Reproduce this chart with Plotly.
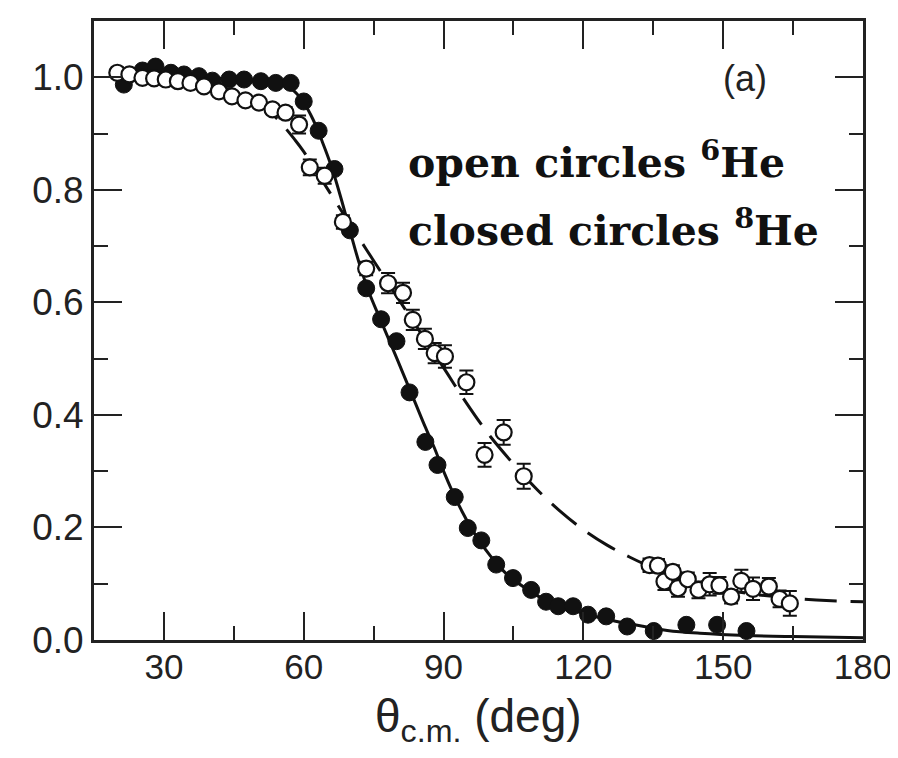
import plotly.graph_objects as go

# --- data ---
he8_theta = [21.4, 25.4, 28.2, 31.5, 34.3, 37.5, 40.4, 44.0, 47.2, 50.8, 54.0, 57.2,
             60.0, 63.2, 66.6, 69.9, 73.4, 76.6, 79.9, 82.7, 86.1, 88.7, 92.4, 95.2,
             98.1, 101.3, 104.9, 108.8, 112.0, 114.6, 117.8, 121.0, 124.9, 129.4,
             135.1, 142.1, 148.7, 155.0]
he8_ratio = [0.987, 1.012, 1.019, 1.008, 1.005, 1.002, 0.994, 0.996, 0.996, 0.993, 0.990, 0.990,
             0.957, 0.905, 0.837, 0.728, 0.625, 0.570, 0.531, 0.440, 0.352, 0.311, 0.254, 0.199,
             0.177, 0.134, 0.110, 0.089, 0.068, 0.060, 0.060, 0.045, 0.042, 0.024,
             0.016, 0.027, 0.027, 0.016]

he6_theta = [20.0, 22.6, 25.4, 27.9, 30.4, 33.0, 35.7, 38.6, 41.8, 44.6, 47.5, 50.4, 53.3,
             56.1, 59.0, 61.3, 64.5, 68.4, 73.4, 78.1, 81.3, 83.4, 86.0, 88.1, 90.3,
             94.9, 98.8, 102.9, 107.2, 134.2, 136.0, 137.4, 139.2, 140.3, 142.4, 144.7,
             147.1, 149.2, 151.7, 153.9, 156.4, 159.8, 162.1, 164.3]
he6_ratio = [1.008, 1.005, 0.999, 0.998, 0.996, 0.993, 0.990, 0.984, 0.975, 0.966, 0.959, 0.955, 0.943,
             0.937, 0.916, 0.840, 0.825, 0.743, 0.660, 0.634, 0.617, 0.569, 0.535, 0.510, 0.504,
             0.458, 0.329, 0.369, 0.291, 0.133, 0.132, 0.104, 0.121, 0.092, 0.108, 0.089,
             0.099, 0.097, 0.077, 0.105, 0.091, 0.095, 0.073, 0.065]
he6_err = [0.006, 0.006, 0.006, 0.006, 0.006, 0.006, 0.006, 0.006, 0.006, 0.006, 0.006, 0.006, 0.008,
           0.010, 0.016, 0.014, 0.014, 0.012, 0.012, 0.018, 0.018, 0.018, 0.018, 0.018, 0.020,
           0.021, 0.021, 0.022, 0.022, 0.012, 0.012, 0.015, 0.012, 0.015, 0.012, 0.015,
           0.020, 0.015, 0.012, 0.020, 0.020, 0.015, 0.015, 0.022]

fit8_theta = [20, 25, 30, 35, 40, 45, 50, 54, 56, 58, 60, 62, 64, 66, 68, 70, 72, 74, 76, 78,
              80, 82, 84, 86, 88, 90, 92, 94, 96, 98, 100, 102, 105, 108, 112, 116, 121,
              126, 131, 138, 145, 155, 165, 180]
fit8_ratio = [1.0, 1.008, 1.008, 1.004, 0.999, 0.996, 0.993, 0.990, 0.986, 0.975, 0.955, 0.925,
              0.885, 0.840, 0.785, 0.725, 0.667, 0.618, 0.578, 0.539, 0.500, 0.460, 0.420, 0.380,
              0.342, 0.300, 0.262, 0.228, 0.198, 0.172, 0.150, 0.130, 0.107, 0.090, 0.070,
              0.057, 0.045, 0.035, 0.027, 0.017, 0.012, 0.008, 0.006, 0.004]

fit6_theta = [20, 30, 40, 45, 50, 52, 55, 58, 60, 65, 70, 75, 80, 85, 90, 95, 100, 105, 110,
              115, 120, 125, 130, 135, 140, 145, 150, 155, 160, 165, 170, 175, 180]
fit6_ratio = [1.0, 0.997, 0.985, 0.975, 0.958, 0.945, 0.920, 0.890, 0.868, 0.803, 0.738, 0.674,
              0.610, 0.547, 0.484, 0.420, 0.362, 0.313, 0.268, 0.229, 0.196, 0.169, 0.147,
              0.128, 0.113, 0.101, 0.091, 0.083, 0.078, 0.074, 0.071, 0.069, 0.068]

x_ticks = [30, 60, 90, 120, 150, 180]
y_ticks = [0.0, 0.2, 0.4, 0.6, 0.8, 1.0]

SANS = "Liberation Sans, Arial, sans-serif"

fig = go.Figure()

fig.add_trace(go.Scatter(x=fit6_theta, y=fit6_ratio, mode="lines", line_shape="spline",
                         line=dict(color="#111", width=3, dash="32px,14px"),
                         showlegend=False, hoverinfo="skip"))
fig.add_trace(go.Scatter(x=fit8_theta, y=fit8_ratio, mode="lines", line_shape="spline",
                         line=dict(color="#111", width=3),
                         showlegend=False, hoverinfo="skip"))
fig.add_trace(go.Scatter(x=he8_theta, y=he8_ratio, mode="markers",
                         marker=dict(symbol="circle", size=17, color="#111",
                                     line=dict(color="#111", width=1)),
                         showlegend=False))
fig.add_trace(go.Scatter(x=he6_theta, y=he6_ratio, mode="markers",
                         error_y=dict(type="data", array=he6_err, visible=True,
                                      color="#111", thickness=2, width=7),
                         marker=dict(symbol="circle", size=16, color="white",
                                     line=dict(color="#111", width=2.2)),
                         showlegend=False))

axis_common = dict(showline=True, linecolor="#222", linewidth=3, mirror="allticks",
                   ticks="inside", ticklen=28, tickwidth=2, tickcolor="#222",
                   showgrid=False, zeroline=False)

fig.update_xaxes(range=[15, 180], tickvals=x_ticks, ticktext=[str(v) for v in x_ticks],
                 ticklabelstandoff=-6,
                 tickfont=dict(family=SANS, size=35, color="#222"),
                 minor=dict(dtick=15, tick0=0, ticks="inside", ticklen=14, tickwidth=2,
                            tickcolor="#222"),
                 **axis_common)
fig.update_yaxes(range=[0, 1.1], tickvals=y_ticks, ticktext=[f"{v:.1f}" for v in y_ticks],
                 tickfont=dict(family=SANS, size=37, color="#222"),
                 minor=dict(dtick=0.1, tick0=0, ticks="inside", ticklen=14, tickwidth=2,
                            tickcolor="#222"),
                 **axis_common)

fig.add_annotation(text="θ<sub>c.m.</sub> (deg)", xref="paper", yref="paper",
                   x=0.5, y=-0.128, xanchor="center", yanchor="middle", showarrow=False,
                   font=dict(family=SANS, size=46, color="#222"))
fig.add_annotation(text="(a)", xref="paper", yref="paper",
                   x=(737 - 86) / 769, y=(632 - 68) / 622, xanchor="center", yanchor="middle",
                   showarrow=False,
                   font=dict(family=SANS, size=36, color="#222"))
fig.add_annotation(text="<b>open circles <sup>6</sup>He</b>", xref="paper", yref="paper",
                   x=(398 - 86) / 769, y=(632 - 150) / 622, xanchor="left", yanchor="middle",
                   showarrow=False,
                   font=dict(family="DejaVu Serif, serif", size=41, color="#111"))
fig.add_annotation(text="<b>closed circles <sup>8</sup>He</b>", xref="paper", yref="paper",
                   x=(398 - 86) / 769, y=(632 - 218) / 622, xanchor="left", yanchor="middle",
                   showarrow=False,
                   font=dict(family="DejaVu Serif, serif", size=41, color="#111"))

fig.update_layout(width=898, height=758, margin=dict(l=86, r=43, t=10, b=126),
                  paper_bgcolor="white", plot_bgcolor="white", showlegend=False)

fig.write_html("out.html")
